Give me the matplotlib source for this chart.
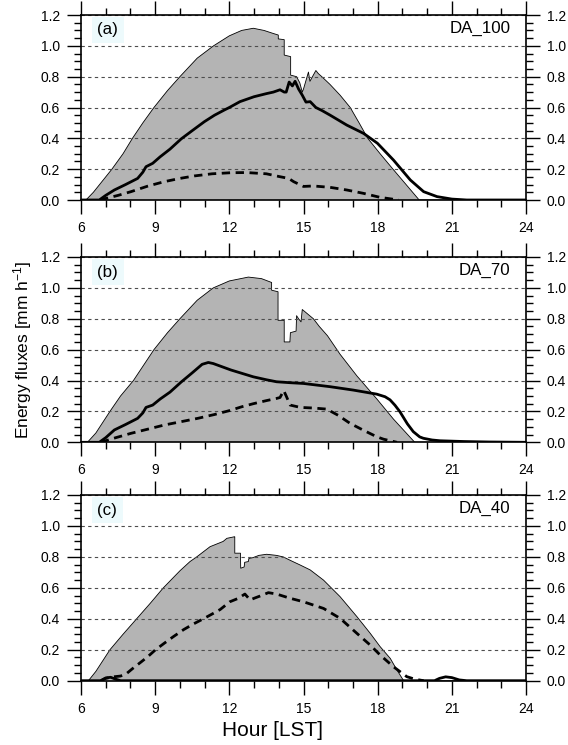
import matplotlib
matplotlib.use("Agg")
import matplotlib.pyplot as plt
from matplotlib.ticker import MultipleLocator

plt.rcParams['font.family'] = ['Liberation Sans', 'DejaVu Sans']
plt.rcParams['mathtext.fontset'] = 'custom'
plt.rcParams['mathtext.rm'] = 'Liberation Sans'
plt.rcParams['mathtext.it'] = 'Liberation Sans:italic'

# ---------------- data ----------------
panel_tags = ["(a)", "(b)", "(c)"]
panel_names = ["DA_100", "DA_70", "DA_40"]

a_fill_h = [6.0, 6.2, 6.5, 6.8, 7.25, 7.7, 8.08, 8.5, 8.95, 9.5, 10.0, 10.7, 11.36, 12.0, 12.5, 12.97,
            13.4, 13.78, 13.98, 13.98, 14.22, 14.22, 14.48, 14.48, 14.72, 14.85, 14.95, 15.0, 15.2,
            15.26, 15.5, 15.6, 15.74, 16.07, 16.48, 16.89, 17.25, 17.6, 18.1, 18.62, 19.15, 19.68, 24.0]
a_fill_v = [0.0, 0.0, 0.05, 0.11, 0.2, 0.3, 0.4, 0.5, 0.6, 0.71, 0.8, 0.92, 1.0, 1.065, 1.1, 1.114,
            1.10, 1.08, 1.07, 1.045, 1.04, 0.94, 0.93, 0.81, 0.80, 0.76, 0.70, 0.72, 0.83,
            0.77, 0.84, 0.82, 0.80, 0.75, 0.68, 0.60, 0.50, 0.40, 0.30, 0.20, 0.10, 0.0, 0.0]
a_solid_h = [6.0, 6.74, 7.0, 7.35, 7.8, 8.29, 8.5, 8.63, 8.9, 9.2, 9.6, 10.05, 10.5, 10.99, 11.4, 11.8,
             12.0, 12.43, 13.0, 13.5, 13.78, 14.05, 14.22, 14.3, 14.42, 14.55, 14.66, 14.8, 14.95,
             15.1, 15.27, 15.5, 15.75, 16.08, 16.75, 17.43, 17.99, 18.64, 19.32, 19.86, 20.4, 21.0,
             21.6, 24.0]
a_solid_v = [0.0, 0.0, 0.03, 0.065, 0.1, 0.14, 0.18, 0.216, 0.238, 0.28, 0.33, 0.396, 0.45, 0.508,
             0.55, 0.584, 0.6, 0.638, 0.67, 0.69, 0.70, 0.715, 0.70, 0.70, 0.765, 0.74, 0.77, 0.72,
             0.68, 0.635, 0.638, 0.60, 0.58, 0.55, 0.486, 0.432, 0.368, 0.259, 0.13, 0.054, 0.022,
             0.006, 0.0, 0.0]
a_dash_h = [6.77, 7.0, 7.5, 8.02, 8.7, 9.37, 10.0, 10.58, 11.3, 12.07, 12.7, 13.5, 14.05, 14.4, 14.6,
            15.0, 15.4, 16.08, 16.75, 17.43, 18.1, 18.85]
a_dash_v = [0.0, 0.01, 0.03, 0.054, 0.09, 0.119, 0.14, 0.156, 0.17, 0.177, 0.178, 0.17, 0.151, 0.14,
            0.119, 0.088, 0.091, 0.082, 0.065, 0.043, 0.017, 0.0]

b_fill_h = [6.0, 6.26, 6.6, 7.17, 7.6, 8.12, 8.95, 9.5, 10.0, 10.7, 11.35, 12.0, 12.77, 13.3, 13.71,
            13.71, 13.97, 13.97, 14.22, 14.22, 14.45, 14.47, 14.70, 14.72, 14.80, 14.90, 14.95, 15.1,
            15.25, 15.4, 15.64, 15.97, 16.48, 17.16, 17.97, 18.64, 19.5, 24.0]
b_fill_v = [0.0, 0.0, 0.06, 0.2, 0.3, 0.4, 0.6, 0.71, 0.8, 0.92, 1.0, 1.045, 1.07, 1.06, 1.035,
            0.985, 0.975, 0.79, 0.79, 0.65, 0.65, 0.71, 0.72, 0.82, 0.80, 0.78, 0.86, 0.84,
            0.82, 0.80, 0.75, 0.69, 0.57, 0.43, 0.28, 0.15, 0.0, 0.0]
b_solid_h = [6.0, 6.74, 7.0, 7.35, 7.8, 8.29, 8.5, 8.63, 8.9, 9.2, 9.6, 10.05, 10.5, 10.9, 11.15,
             11.35, 12.07, 12.97, 13.5, 13.91, 14.45, 15.0, 16.08, 17.02, 17.96, 18.3, 18.5, 18.7,
             18.9, 19.2, 19.44, 19.7, 19.85, 20.2, 20.52, 21.5, 22.5, 24.0]
b_solid_v = [0.0, 0.0, 0.03, 0.08, 0.115, 0.155, 0.19, 0.226, 0.241, 0.28, 0.325, 0.39, 0.45, 0.505,
             0.517, 0.51, 0.468, 0.424, 0.405, 0.392, 0.386, 0.381, 0.36, 0.338, 0.312, 0.295, 0.275,
             0.24, 0.198, 0.12, 0.069, 0.035, 0.026, 0.015, 0.01, 0.005, 0.002, 0.0]
b_dash_h = [6.8, 7.3, 8.02, 8.7, 9.37, 10.0, 10.72, 11.4, 12.0, 12.5, 12.97, 13.5, 13.91, 14.05,
            14.2, 14.3, 14.46, 14.87, 15.4, 15.94, 16.4, 16.88, 17.4, 17.96, 18.24, 18.78]
b_dash_v = [0.0, 0.025, 0.058, 0.085, 0.112, 0.132, 0.155, 0.18, 0.205, 0.23, 0.25, 0.27, 0.284,
            0.29, 0.335, 0.30, 0.241, 0.226, 0.222, 0.215, 0.175, 0.123, 0.08, 0.036, 0.02, 0.0]

c_fill_h = [6.0, 6.3, 6.6, 7.17, 7.7, 8.25, 8.8, 9.33, 10.0, 10.41, 10.68, 11.22, 11.75, 11.9, 12.2,
            12.22, 12.22, 12.45, 12.46, 12.6, 12.62, 12.77, 12.79, 12.95, 13.2, 13.51, 13.9, 14.18,
            14.5, 14.86, 15.27, 15.81, 16.48, 17.16, 17.7, 18.1, 18.51, 18.78, 19.05, 24.0]
c_fill_v = [0.0, 0.0, 0.06, 0.2, 0.3, 0.4, 0.5, 0.6, 0.71, 0.77, 0.80, 0.866, 0.9, 0.92, 0.93,
            0.93, 0.824, 0.824, 0.727, 0.735, 0.765, 0.77, 0.79, 0.795, 0.81, 0.817, 0.81, 0.80,
            0.775, 0.748, 0.716, 0.65, 0.543, 0.414, 0.306, 0.22, 0.144, 0.069, 0.0, 0.0]
c_solid_h = [6.0, 6.8, 7.0, 7.2, 7.4, 7.6, 20.3, 20.5, 20.75, 21.0, 21.3, 21.6, 24.0]
c_solid_v = [0.0, 0.0, 0.018, 0.022, 0.01, 0.0, 0.0, 0.015, 0.025, 0.02, 0.005, 0.0, 0.0]
c_dash_h = [6.8, 7.0, 7.3, 7.6, 7.85, 8.1, 8.39, 8.7, 9.0, 9.35, 9.73, 10.15, 10.54, 10.95, 11.35,
            11.63, 12.02, 12.36, 12.63, 12.84, 13.04, 13.24, 13.58, 13.91, 14.45, 15.0, 15.81,
            16.48, 17.16, 17.7, 18.1, 18.64, 19.18, 19.5, 19.86]
c_dash_v = [0.0, 0.015, 0.025, 0.03, 0.047, 0.08, 0.116, 0.155, 0.198, 0.24, 0.284, 0.33, 0.366,
            0.4, 0.435, 0.46, 0.51, 0.532, 0.56, 0.522, 0.535, 0.547, 0.569, 0.56, 0.533, 0.51,
            0.467, 0.403, 0.306, 0.23, 0.166, 0.09, 0.026, 0.01, 0.0]

x_ticks = [6, 9, 12, 15, 18, 21, 24]
y_ticks = [0.0, 0.2, 0.4, 0.6, 0.8, 1.0, 1.2]

panels = [
    (a_fill_h, a_fill_v, a_solid_h, a_solid_v, a_dash_h, a_dash_v),
    (b_fill_h, b_fill_v, b_solid_h, b_solid_v, b_dash_h, b_dash_v),
    (c_fill_h, c_fill_v, c_solid_h, c_solid_v, c_dash_h, c_dash_v),
]

# ---------------- figure ----------------
W, H = 568, 745
fig = plt.figure(figsize=(W / 100, H / 100), dpi=100)

left_px, right_px = 81, 526
panel_px = [(15, 200), (257, 442.3), (495, 680.7)]

for i, (fh, fv, sh, sv, dh, dv) in enumerate(panels):
    top, bot = panel_px[i]
    ax = fig.add_axes([left_px / W, 1 - bot / H, (right_px - left_px) / W, (bot - top) / H])
    ax.set_axisbelow('line')
    ax.fill_between(fh, fv, 0, facecolor='#b4b4b4', edgecolor='none', zorder=1)
    ax.plot(fh, fv, color='black', lw=0.6, zorder=1.2)
    ax.plot(sh, sv, color='black', lw=2.0, solid_joinstyle='round', zorder=3)
    ax.plot(dh, dv, color='black', lw=2.0, linestyle=(0, (3.0, 2.0)), zorder=3)

    ax.set_xlim(6, 24)
    ax.set_ylim(0, 1.2)
    ax.set_xticks(x_ticks)
    ax.set_yticks(y_ticks)
    ax.set_yticklabels(['%.1f' % v for v in y_ticks])
    ax.xaxis.set_minor_locator(MultipleLocator(1))
    ax.yaxis.set_minor_locator(MultipleLocator(0.05))
    ax.tick_params(which='major', direction='out', length=10, width=1.0,
                   top=True, right=True, labelright=True, labelsize=10, pad=5)
    ax.tick_params(which='minor', direction='out', length=5, width=1.0,
                   top=True, right=True)
    ax.grid(axis='y', which='major', color='0.3', linestyle=(0, (3, 3)), linewidth=0.8)
    for sp in ax.spines.values():
        sp.set_linewidth(1.2)

    ax.text(0.037, 0.919, panel_tags[i], transform=ax.transAxes, fontsize=12.2,
            ha='left', va='center',
            bbox=dict(boxstyle='square,pad=0.35', facecolor='#edfafc', edgecolor='none'),
            zorder=5)
    ax.text(0.965, 0.925, panel_names[i], transform=ax.transAxes, fontsize=12.2,
            ha='right', va='center', zorder=5)

fig.text(273 / W, 1 - 730 / H, 'Hour [LST]', ha='center', va='center', fontsize=15)
fig.text(23 / W, 1 - 349.5 / H, r'Energy fluxes [mm h$^{\mathregular{-1}}$]', ha='center',
         va='center', rotation=90, fontsize=12.5)

fig.savefig('out.png', dpi=100)
